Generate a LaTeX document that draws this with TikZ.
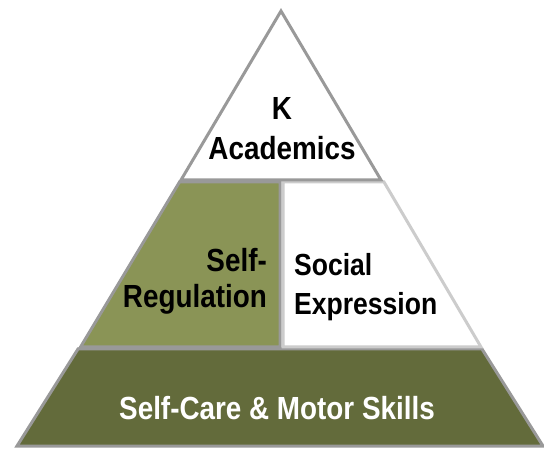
\documentclass[tikz,border=0pt]{standalone}
\usepackage{fontspec}
\newfontfamily\pyrfont{Liberation Sans Bold}[FakeStretch=0.87]
\usepackage{tikz}
\usetikzlibrary{positioning}
\definecolor{olivelight}{RGB}{138,148,86}
\definecolor{olivedark}{RGB}{99,107,59}
\definecolor{edgegray}{RGB}{153,153,153}
\definecolor{edgelight}{RGB}{204,204,204}
\tikzset{
	tier/.append style={
		draw=edgegray,
		line width=3pt,
	},
	tierlabel/.append style={
		inner sep=0pt,
		font={\pyrfont\fontsize{32}{40}\selectfont},
	},
}

\begin{document}
\begin{tikzpicture}[x=1pt, y=-1pt]
\useasboundingbox (0,0) rectangle (544,449);

% tiers, bottom up
\draw[tier, fill=olivedark] (78,349) -- (482,349) -- (543,446) -- (17,446) -- cycle;
\draw[tier, fill=olivelight] (179.5,182) -- (280,182) -- (280,347) -- (80.5,347) -- cycle;
\draw[tier, draw=edgelight, fill=white] (283,182) -- (384,182) -- (481,347) -- (283,347) -- cycle;
\draw[tier, fill=white] (281,11) -- (381,180) -- (181,180) -- cycle;

\node(acad)[tierlabel, align=center] at (282,129) {K\\Academics};
\node(selfreg)[tierlabel, align=right, anchor=east, font={\pyrfont\fontsize{32}{36}\selectfont}] at (267,281) {Self-\\Regulation};
\node(social)[tierlabel, align=left, anchor=west, font={\pyrfont\fontsize{30.5}{39}\selectfont}] at (294,287) {Social\\Expression};
\node(care)[tierlabel, text=white] at (277,408) {Self-Care \& Motor Skills};

\end{tikzpicture}
\end{document}
